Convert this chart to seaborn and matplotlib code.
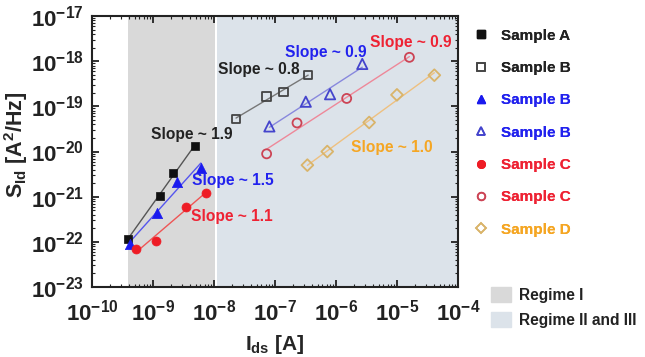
import numpy as np
import pandas as pd
import seaborn as sns
import matplotlib
matplotlib.use("Agg")
import matplotlib.pyplot as plt
from matplotlib.lines import Line2D
from matplotlib.patches import Patch
from matplotlib.ticker import FixedLocator, LogLocator, FuncFormatter, NullFormatter

sns.set_style("ticks")
plt.rcParams['font.family'] = ['Liberation Sans', 'DejaVu Sans']
plt.rcParams['font.weight'] = 'bold'
plt.rcParams['mathtext.fontset'] = 'custom'
plt.rcParams['mathtext.rm'] = 'Liberation Sans:bold'
plt.rcParams['mathtext.bf'] = 'Liberation Sans:bold'
plt.rcParams['mathtext.it'] = 'Liberation Sans:bold'

# ---- data ----
a_x = [3.9e-10, 1.3e-9, 2.14e-9, 4.9e-9]
a_y = [1.17e-22, 1.05e-21, 3.4e-21, 1.33e-20]
bf_x = [4.2e-10, 1.16e-9, 2.47e-9, 6.1e-9]
bf_y = [9.1e-23, 4.4e-22, 2.1e-21, 4.4e-21]
cf_x = [5.3e-10, 1.12e-9, 3.5e-9, 7.3e-9]
cf_y = [6.9e-23, 1.07e-22, 6.0e-22, 1.2e-21]
bs_x = [2.3e-8, 7.3e-8, 1.37e-7, 3.5e-7]
bs_y = [5.2e-20, 1.64e-19, 2.1e-19, 4.9e-19]
bt_x = [8.1e-8, 3.2e-7, 8.0e-7, 2.7e-6]
bt_y = [3.6e-20, 1.27e-19, 1.86e-19, 8.7e-19]
co_x = [7.3e-8, 2.3e-7, 1.5e-6, 1.6e-5]
co_y = [8.9e-21, 4.3e-20, 1.5e-19, 1.22e-18]
d_x = [3.4e-7, 7.2e-7, 3.5e-6, 1.0e-5, 4.1e-5]
d_y = [5.0e-21, 1.0e-20, 4.4e-20, 1.8e-19, 4.9e-19]

labels = ["Sample A", "Sample B", "Sample B", "Sample B", "Sample C", "Sample C", "Sample D"]
slope_texts = ["Slope ~ 1.9", "Slope ~ 0.8", "Slope ~ 1.5", "Slope ~ 0.9", "Slope ~ 1.1", "Slope ~ 0.9", "Slope ~ 1.0"]
regime_labels = ["Regime I", "Regime II and III"]
regime1 = (3.9e-10, 1.05e-8)
regime2 = (1.12e-8, 1e-4)

series = [
    # x, y, marker, filled, marker color, line color, text color, size
    (a_x, a_y, 's', True, '#111111', '#555555', '#222222', 38),
    (bs_x, bs_y, 's', False, '#444444', '#777777', '#222222', 38),
    (bf_x, bf_y, '^', True, '#1a1aee', '#5555ee', '#2222ee', 55),
    (bt_x, bt_y, '^', False, '#4444cc', '#8888dd', '#2222ee', 55),
    (cf_x, cf_y, 'o', True, '#ee1c25', '#ee5555', '#ee2233', 42),
    (co_x, co_y, 'o', False, '#cc4455', '#ee8899', '#ee2233', 42),
    (d_x, d_y, 'D', False, '#d9b46a', '#eec080', '#f5a623', 36),
]

fig = plt.figure(figsize=(6.45, 3.57), dpi=100)
ax = fig.add_axes([0.1426, 0.196, 0.5674, 0.759])
ax.set_xscale('log')
ax.set_yscale('log')
ax.set_xlim(1e-10, 1e-4)
ax.set_ylim(1e-23, 1e-17)

ax.axvspan(*regime1, color='#d9d9d9', lw=0, zorder=0)
ax.axvspan(*regime2, color='#dce3ea', lw=0, zorder=0)

handles = []
for (x, y, m, filled, mc, lc, tc, s), lab in zip(series, labels):
    lx = np.log10(x); ly = np.log10(y)
    k, b = np.polyfit(lx, ly, 1)
    fx = np.array([lx.min(), lx.max()])
    df_line = pd.DataFrame({"x": 10 ** fx, "y": 10 ** (k * fx + b)})
    sns.lineplot(data=df_line, x="x", y="y", ax=ax, color=lc, lw=1.0, zorder=2)
    df = pd.DataFrame({"x": x, "y": y})
    if filled:
        sns.scatterplot(data=df, x="x", y="y", ax=ax, marker=m, s=s, color=mc,
                        edgecolor=mc, linewidth=0.5, zorder=3)
        handles.append(Line2D([], [], marker=m, ls='none', color=mc, markersize=5.5,
                              markerfacecolor=mc, markeredgecolor=mc))
    else:
        sns.scatterplot(data=df, x="x", y="y", ax=ax, marker=m, s=s, color=mc,
                        facecolor='none', edgecolor=mc, linewidth=1.3, zorder=3)
        handles.append(Line2D([], [], marker=m, ls='none', color=mc, markersize=5.5,
                              markerfacecolor='none', markeredgecolor=mc, markeredgewidth=1.2))

# annotations
ann = [
    (slope_texts[0], 9.3e-10, 2.33e-20, '#222222'),
    (slope_texts[1], 1.16e-8, 6.7e-19, '#222222'),
    (slope_texts[2], 4.36e-9, 2.24e-21, '#2222ee'),
    (slope_texts[3], 1.46e-7, 1.6e-18, '#2222ee'),
    (slope_texts[4], 4.2e-9, 3.6e-22, '#ee2233'),
    (slope_texts[5], 3.6e-6, 2.66e-18, '#ee2233'),
    (slope_texts[6], 1.76e-6, 1.26e-20, '#f5a623'),
]
for t, xx, yy, c in ann:
    ax.text(xx, yy, t, color=c, fontsize=11.2, fontweight='bold', ha='left', va='center', zorder=4)

ax.xaxis.set_major_locator(FixedLocator([10.0 ** e for e in range(-10, -3)]))
ax.yaxis.set_major_locator(FixedLocator([10.0 ** e for e in range(-23, -16)]))
ax.xaxis.set_minor_locator(LogLocator(base=10, subs=np.arange(2, 10), numticks=20))
ax.yaxis.set_minor_locator(LogLocator(base=10, subs=np.arange(2, 10), numticks=20))
fmt = FuncFormatter(lambda v, p: r'$\mathbf{10^{%d}}$' % int(round(np.log10(v))))
ax.xaxis.set_major_formatter(fmt)
ax.yaxis.set_major_formatter(fmt)
ax.xaxis.set_minor_formatter(NullFormatter())
ax.yaxis.set_minor_formatter(NullFormatter())
ax.tick_params(which='both', direction='in', top=True, right=True, colors='#222222')
ax.tick_params(which='major', length=5, width=1.3, labelsize=16)
ax.tick_params(axis='x', which='major', pad=9)
ax.tick_params(axis='y', which='major', pad=6)
ax.tick_params(which='minor', length=2.5, width=0.8)
for sp in ax.spines.values():
    sp.set_linewidth(1.5)
    sp.set_color('#222222')

ax.set_xlabel(r'$\mathbf{I_{ds}}$ [A]', fontsize=15, fontweight='bold')
ax.set_ylabel(r'$\mathbf{S_{Id}}$ [A$^{\mathbf{2}}$/Hz]', fontsize=15.5, fontweight='bold')
ax.xaxis.set_label_coords(0.5, -0.17)
ax.yaxis.set_label_coords(-0.168, 0.524)

leg1 = fig.legend(handles=handles, labels=labels, loc='upper left', bbox_to_anchor=(0.725, 0.937),
                  frameon=False, prop={'weight': 'bold', 'size': 11},
                  labelcolor=[s[6] for s in series], labelspacing=1.2, handletextpad=0.8,
                  handlelength=1.0, borderaxespad=0)
reg_handles = [Patch(color='#d9d9d9'), Patch(color='#dce3ea')]
leg2 = fig.legend(handles=reg_handles, labels=regime_labels, loc='upper left',
                  bbox_to_anchor=(0.752, 0.213), frameon=False,
                  prop={'weight': 'bold', 'size': 11.2}, labelcolor='#222222',
                  handlelength=1.3, handleheight=1.1, handletextpad=0.5, labelspacing=0.6,
                  borderaxespad=0)
fig.add_artist(leg1)

fig.savefig('out.png', dpi=100)
